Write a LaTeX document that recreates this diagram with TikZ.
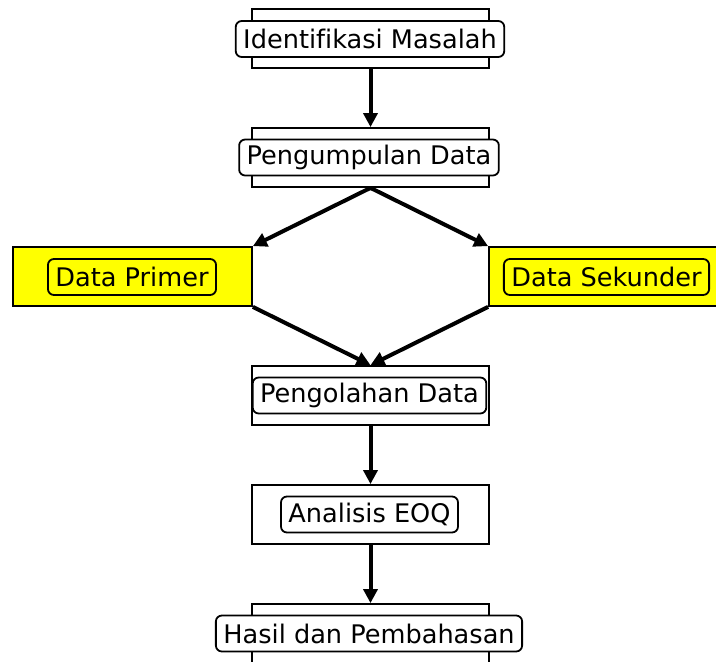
\documentclass[tikz,border=0pt]{standalone}
\usepackage{fontspec}
\setmainfont[Ligatures=NoCommon]{DejaVu Sans}
\usetikzlibrary{arrows.meta}
\definecolor{boxyellow}{RGB}{255,255,0}
\begin{document}
\begin{tikzpicture}[x=1pt,y=-1pt,
  outerbox/.style={draw=black,line width=1.8pt,minimum width=237pt,minimum height=59pt,inner sep=0pt},
  ybox/.style={outerbox,fill=boxyellow,minimum width=239pt},
  textbox/.style={draw=black,line width=1.8pt,rounded corners=6pt,fill=white,minimum height=36pt,inner xsep=7.5pt,inner ysep=0pt,font=\fontsize{25.6pt}{29pt}\selectfont},
  ytext/.style={textbox,fill=boxyellow},
  arr/.style={line width=4pt,-{Triangle[length=14pt,width=14pt]}}]
\useasboundingbox (0,0) rectangle (716,662);
\fill[white] (0,0) rectangle (716,662);
\node[outerbox] (o1) at (370.5,38.5) {};
\node[textbox] (t1) at (370,39) {Identifikasi Masalah};
\node[outerbox] (o2) at (370.5,157.5) {};
\node[textbox] (t2) at (369,157.5) {Pengumpulan Data};
\node[ybox] (o3) at (132.5,276.5) {};
\node[ytext] (t3) at (132,277) {Data Primer};
\node[ybox] (o4) at (608.5,276.5) {};
\node[ytext] (t4) at (606.5,277) {Data Sekunder};
\node[outerbox] (o5) at (370.5,395.5) {};
\node[textbox] (t5) at (369.5,395.5) {Pengolahan Data};
\node[outerbox] (o6) at (370.5,514.5) {};
\node[textbox] (t6) at (369.5,514.5) {Analisis EOQ};
\node[outerbox] (o7) at (370.5,633.5) {};
\node[textbox] (t7) at (369,633.5) {Hasil dan Pembahasan};
\draw[arr] (o1.south) -- (o2.north);
\draw[arr] (o2.south) -- (o3.north east);
\draw[arr] (o2.south) -- (o4.north west);
\draw[arr] (o3.south east) -- (o5.north);
\draw[arr] (o4.south west) -- (o5.north);
\draw[arr] (o5.south) -- (o6.north);
\draw[arr] (o6.south) -- (o7.north);
\end{tikzpicture}
\end{document}
